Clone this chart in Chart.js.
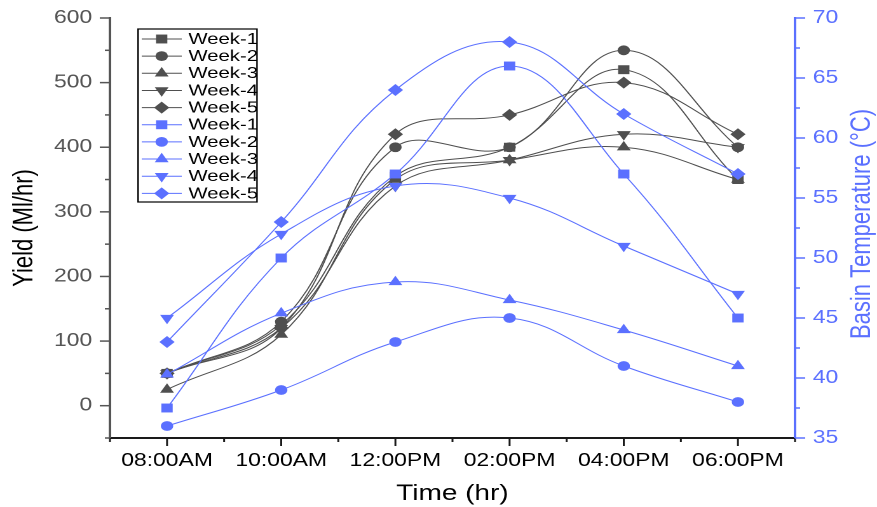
<!DOCTYPE html>
<html>
<head>
<meta charset="utf-8">
<script src="https://cdn.jsdelivr.net/npm/chart.js@4.4.1/dist/chart.umd.min.js"></script>
<style>
  html, body { margin: 0; padding: 0; background: #fff; overflow: hidden; }
  /* the plot is laid out at 690px and widened to the 877px page */
  #wrap { width: 690px; height: 507px; transform: scaleX(1.27101); transform-origin: 0 0; }
</style>
</head>
<body>
<div id="wrap"><canvas id="c" width="690" height="507"></canvas></div>
<script>
// ---- data ----
const hours = [8, 10, 12, 14, 16, 18];
const timeLabels = ['08:00AM', '10:00AM', '12:00PM', '02:00PM', '04:00PM', '06:00PM'];
const weekNames = ['Week-1', 'Week-2', 'Week-3', 'Week-4', 'Week-5'];

// Yield (Ml/hr), left axis
const yieldWeek1 = [50, 125, 355, 400, 520, 350];
const yieldWeek2 = [50, 130, 400, 400, 550, 400];
const yieldWeek3 = [25, 110, 350, 380, 400, 350];
const yieldWeek4 = [50, 120, 340, 380, 420, 400];
const yieldWeek5 = [50, 120, 420, 450, 500, 420];

// Basin temperature (°C), right axis
const tempWeek1 = [37.5, 50, 57, 66, 57, 45];
const tempWeek2 = [36, 39, 43, 45, 41, 38];
const tempWeek3 = [40.3, 45.4, 48, 46.5, 44, 41];
const tempWeek4 = [45, 52, 56, 55, 51, 47];
const tempWeek5 = [43, 53, 64, 68, 62, 57];

// labelled ticks
const yieldTickLabels = [0, 100, 200, 300, 400, 500, 600];
const tempTickLabels = [35, 40, 45, 50, 55, 60, 65, 70];

// ---- styles ----
const GRAY = '#4f4f4f';
const BLUE = '#5b70ff';
const FONT = "'Liberation Sans', Arial, Helvetica, sans-serif";
const markerStyles = ['rect', 'circle', 'triangle', 'triangle', 'rectRot'];
const markerRotation = [0, 0, 0, 180, 0];
const markerRadius = [6.3, 4.9, 6.3, 6.3, 6.0];

function makeSet(label, values, color, i, axisId, order) {
  return {
    label: label,
    data: hours.map((h, k) => ({ x: h, y: values[k] })),
    yAxisID: axisId,
    order: order,
    borderColor: color,
    backgroundColor: color,
    borderWidth: 1,
    tension: 0.4,
    pointStyle: markerStyles[i],
    pointRotation: markerRotation[i],
    pointRadius: markerRadius[i],
    pointHoverRadius: markerRadius[i],
    pointBorderWidth: 0,
    pointBackgroundColor: color
  };
}

const yieldSeries = [yieldWeek1, yieldWeek2, yieldWeek3, yieldWeek4, yieldWeek5];
const tempSeries = [tempWeek1, tempWeek2, tempWeek3, tempWeek4, tempWeek5];

const datasets = [];
yieldSeries.forEach((v, i) => datasets.push(makeSet(weekNames[i], v, GRAY, i, 'y', 1)));
tempSeries.forEach((v, i) => datasets.push(makeSet(weekNames[i], v, BLUE, i, 'y1', 0)));

// ---- drawing helpers ----
function strokeLine(ctx, x1, y1, x2, y2) {
  ctx.beginPath(); ctx.moveTo(x1, y1); ctx.lineTo(x2, y2); ctx.stroke();
}

// tick marks: long ticks at labelled values, short ones in between
const axisTicks = {
  id: 'axisTicks',
  afterDraw(chart) {
    const ctx = chart.ctx;
    const sx = chart.scales.x, sy = chart.scales.y, sy1 = chart.scales.y1;
    ctx.save();
    ctx.lineWidth = 1.5;
    ctx.strokeStyle = '#1a1a1a';
    sx.ticks.forEach(t => {
      const px = sx.getPixelForValue(t.value);
      const len = hours.includes(t.value) ? 8 : 4;
      strokeLine(ctx, px, sx.top, px, sx.top + len);
    });
    ctx.strokeStyle = '#555';
    sy.ticks.forEach(t => {
      const py = sy.getPixelForValue(t.value);
      const len = yieldTickLabels.includes(t.value) ? 8 : 4;
      strokeLine(ctx, sy.right, py, sy.right - len, py);
    });
    ctx.strokeStyle = BLUE;
    sy1.ticks.forEach(t => {
      const py = sy1.getPixelForValue(t.value);
      const len = tempTickLabels.includes(t.value) ? 8 : 4;
      strokeLine(ctx, sy1.left, py, sy1.left + len, py);
    });
    // right axis title, reading bottom to top
    ctx.fillStyle = BLUE;
    ctx.font = '22px ' + FONT;
    ctx.textAlign = 'center';
    ctx.textBaseline = 'middle';
    ctx.translate(678.2, 224);
    ctx.rotate(-Math.PI / 2);
    ctx.fillText('Basin Temperature (°C)', 0, 0);
    ctx.restore();
  }
};

function drawMarker(ctx, style, rotation, radius, x, y) {
  if (Chart.helpers && Chart.helpers.drawPoint) {
    Chart.helpers.drawPoint(ctx, { pointStyle: style, rotation: rotation, radius: radius, borderWidth: 0 }, x, y);
    return;
  }
  ctx.beginPath();
  ctx.arc(x, y, radius, 0, Math.PI * 2);
  ctx.fill();
}

// boxed legend inside the plot, one row per series with line and marker
const boxLegend = {
  id: 'boxLegend',
  afterDraw(chart) {
    const ctx = chart.ctx;
    const left = 108.6, right = 202.2, top = 29, bottom = 202;
    const rowTop = 39, rowStep = 17.15;
    ctx.save();
    ctx.fillStyle = '#fff';
    ctx.fillRect(left, top, right - left, bottom - top);
    ctx.lineWidth = 1.2;
    ctx.strokeStyle = '#000';
    ctx.strokeRect(left, top, right - left, bottom - top);
    ctx.font = '16px ' + FONT;
    ctx.textAlign = 'left';
    ctx.textBaseline = 'middle';
    chart.data.datasets.forEach((ds, i) => {
      const y = rowTop + i * rowStep;
      ctx.strokeStyle = ds.borderColor;
      ctx.lineWidth = 1;
      strokeLine(ctx, 111.5, y, 143, y);
      ctx.fillStyle = ds.borderColor;
      drawMarker(ctx, ds.pointStyle, ds.pointRotation, ds.pointRadius, 127.2, y);
      ctx.fillStyle = '#000';
      ctx.fillText(ds.label, 148.2, y + 0.5);
    });
    ctx.restore();
  }
};

new Chart(document.getElementById('c'), {
  type: 'line',
  data: { datasets: datasets },
  plugins: [axisTicks, boxLegend],
  options: {
    responsive: false,
    animation: false,
    devicePixelRatio: 2,
    layout: { padding: { top: 18, left: 0, right: 0, bottom: 0 } },
    plugins: { legend: { display: false }, tooltip: { enabled: false } },
    scales: {
      x: {
        type: 'linear',
        position: 'bottom',
        min: 7, max: 19,
        ticks: {
          stepSize: 1, autoSkip: false, maxRotation: 0, padding: 12,
          color: '#000', font: { family: FONT, size: 18 },
          callback: v => { const k = hours.indexOf(v); return k >= 0 ? timeLabels[k] : ''; }
        },
        grid: { display: false, drawTicks: false },
        border: { display: true, color: '#1a1a1a', width: 2 },
        title: { display: true, text: 'Time (hr)', color: '#000', font: { family: FONT, size: 22 }, padding: { top: 0, bottom: 0 } },
        afterFit: s => { s.height = 69; }
      },
      y: {
        type: 'linear',
        position: 'left',
        min: -50, max: 600,
        ticks: {
          stepSize: 50, autoSkip: false, padding: 7,
          color: '#555', font: { family: FONT, size: 18 },
          callback: v => yieldTickLabels.includes(v) ? String(v) : ''
        },
        grid: { display: false, drawTicks: true, tickLength: 7 },
        border: { display: true, color: '#555', width: 2 },
        title: { display: true, text: 'Yield (Ml/hr)', color: '#000', font: { family: FONT, size: 22 }, padding: { top: 6, bottom: 0 } },
        afterFit: s => { s.width = 86.5; }
      },
      y1: {
        type: 'linear',
        position: 'right',
        min: 35, max: 70,
        ticks: {
          stepSize: 2.5, autoSkip: false, padding: 7,
          color: BLUE, font: { family: FONT, size: 18 },
          callback: v => tempTickLabels.includes(v) ? String(v) : ''
        },
        grid: { display: false, drawTicks: true, tickLength: 7 },
        border: { display: true, color: BLUE, width: 2 },
        afterFit: s => { s.width = 64.5; }
      }
    }
  }
});
</script>
</body>
</html>
